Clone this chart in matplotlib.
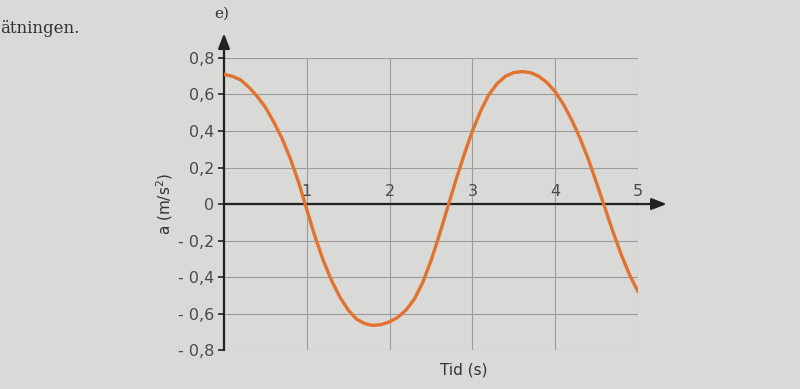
import numpy as np
import matplotlib
matplotlib.use("Agg")
import matplotlib.pyplot as plt

# values, every 0.1 s
tid = np.round(np.arange(0, 5.01, 0.1), 2)
acc = [0.71, 0.70, 0.68, 0.64, 0.59, 0.53, 0.45, 0.36, 0.25, 0.12,
       -0.03, -0.18, -0.31, -0.42, -0.51, -0.58, -0.63, -0.655, -0.665, -0.66,
       -0.645, -0.62, -0.58, -0.52, -0.43, -0.31, -0.17, -0.02, 0.13, 0.27,
       0.40, 0.51, 0.60, 0.66, 0.70, 0.72, 0.725, 0.72, 0.70, 0.665,
       0.615, 0.545, 0.46, 0.36, 0.245, 0.115, -0.02, -0.155, -0.28, -0.39,
       -0.48]

y_ticks = [0.8, 0.6, 0.4, 0.2, 0.0, -0.2, -0.4, -0.6, -0.8]
y_labels = ["0,8", "0,6", "0,4", "0,2", "0", "- 0,2", "- 0,4", "- 0,6", "- 0,8"]
x_ticks = [1, 2, 3, 4, 5]

bg = "#d9d9d7"
txt = "#4a4a4a"

fig = plt.figure(figsize=(8, 3.89), dpi=100, facecolor=bg)
ax = fig.add_axes([0.28, 0.10, 0.5175, 0.751])
ax.set_facecolor(bg)

ax.set_xlim(0, 5)
ax.set_ylim(-0.8, 0.8)

# grid
for x in x_ticks:
    ax.axvline(x, color="#9c9c9c", lw=0.8, zorder=1)
for y in y_ticks:
    ax.axhline(y, color="#9c9c9c", lw=0.8, zorder=1)

for s in ["top", "right", "bottom"]:
    ax.spines[s].set_visible(False)
ax.spines["left"].set_color("#222222")
ax.spines["left"].set_linewidth(1.6)

ax.plot(tid, acc, color="#e2732f", lw=2.4, zorder=3,
        solid_joinstyle="round", solid_capstyle="round")

# zero line + arrows
ax.axhline(0, color="#222222", lw=1.6, zorder=2)
ax.annotate("", xy=(5.38, 0), xytext=(4.95, 0), annotation_clip=False,
            arrowprops=dict(arrowstyle="-|>,head_length=0.9,head_width=0.35",
                            color="#222222", lw=1.6))
ax.annotate("", xy=(0, 0.95), xytext=(0, 0.78), annotation_clip=False,
            arrowprops=dict(arrowstyle="-|>,head_length=0.9,head_width=0.35",
                            color="#222222", lw=1.6))

ax.set_xticks([])
ax.set_yticks(y_ticks)
ax.set_yticklabels(y_labels)
ax.tick_params(axis="y", length=4, width=1.2, color="#222222",
               labelsize=11.5, labelcolor=txt, pad=3)

for x in x_ticks:
    ax.text(x, 0.03, str(x), ha="center", va="bottom", fontsize=11.5, color=txt)

ax.set_ylabel("a (m/s$^2$)", fontsize=11, color="#333333", labelpad=2)
ax.text(2.9, -0.87, "Tid (s)", ha="center", va="top", fontsize=11, color="#333333")

fig.text(0.0, 0.915, "ätningen.", fontsize=12, family="DejaVu Serif", color="#333333")
fig.text(0.268, 0.955, "e)", fontsize=11, family="DejaVu Serif", color="#333333")

fig.savefig("out.png", dpi=100, facecolor=bg)
